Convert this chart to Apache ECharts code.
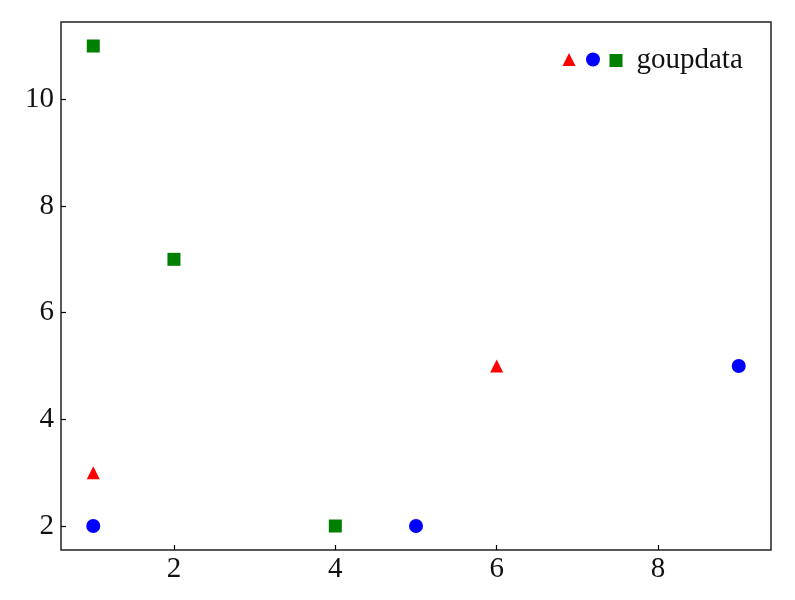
<!DOCTYPE html>
<html>
<head>
<meta charset="utf-8">
<script src="https://cdn.jsdelivr.net/npm/echarts@6/dist/echarts.min.js"></script>
<style>html,body{margin:0;padding:0;background:#fff}#c{width:795px;height:600px}</style>
</head>
<body>
<div id="c"></div>
<script>
var triangleData = [[1, 3], [6, 5]];
var circleData = [[1, 2], [5, 2], [9, 5]];
var squareData = [[1, 11], [2, 7], [4, 2]];
var legendLabel = 'goupdata';
var xTicks = [2, 4, 6, 8];
var yTicks = [2, 4, 6, 8, 10];

var chart = echarts.init(document.getElementById('c'));
var font = 'Liberation Serif';
chart.setOption({
  animation: false,
  grid: {left: 61, right: 24, top: 22, bottom: 50, show: true, borderColor: '#222', borderWidth: 1.5, backgroundColor: 'transparent'},
  xAxis: {type: 'value', min: 0.6, max: 9.4,
    axisLine: {show: false},
    axisTick: {show: true, inside: true, length: 5, lineStyle: {color: '#000', width: 1.2}, customValues: xTicks},
    splitLine: {show: false},
    axisLabel: {color: '#111', fontFamily: font, fontSize: 29, margin: 5, customValues: xTicks}
  },
  yAxis: {type: 'value', min: 1.55, max: 11.45,
    axisLine: {show: false},
    axisTick: {show: true, inside: true, length: 5, lineStyle: {color: '#000', width: 1.2}, customValues: yTicks},
    splitLine: {show: false},
    axisLabel: {color: '#111', fontFamily: font, fontSize: 29, margin: 7, customValues: yTicks}
  },
  legend: [
    {left: 562.5, top: 53, padding: 0, itemWidth: 13, itemHeight: 13, data: ['tri'], formatter: function () { return ''; }},
    {left: 586, top: 52.5, padding: 0, itemWidth: 14, itemHeight: 14, data: ['circ'], formatter: function () { return ''; }},
    {left: 609.5, top: 46, padding: 0, itemWidth: 13, itemHeight: 13, itemGap: 0, data: [legendLabel],
      textStyle: {fontFamily: font, fontSize: 29, color: '#111', padding: [0, 0, 0, 9]}}
  ],
  series: [
    {name: 'tri', type: 'scatter', symbol: 'triangle', symbolSize: 13, itemStyle: {color: '#ff0000', opacity: 1}, data: triangleData},
    {name: 'circ', type: 'scatter', symbol: 'circle', symbolSize: 14, itemStyle: {color: '#0000ff', opacity: 1}, data: circleData},
    {name: legendLabel, type: 'scatter', symbol: 'rect', symbolSize: 13, itemStyle: {color: '#008000', opacity: 1}, data: squareData}
  ]
});
</script>
</body>
</html>
